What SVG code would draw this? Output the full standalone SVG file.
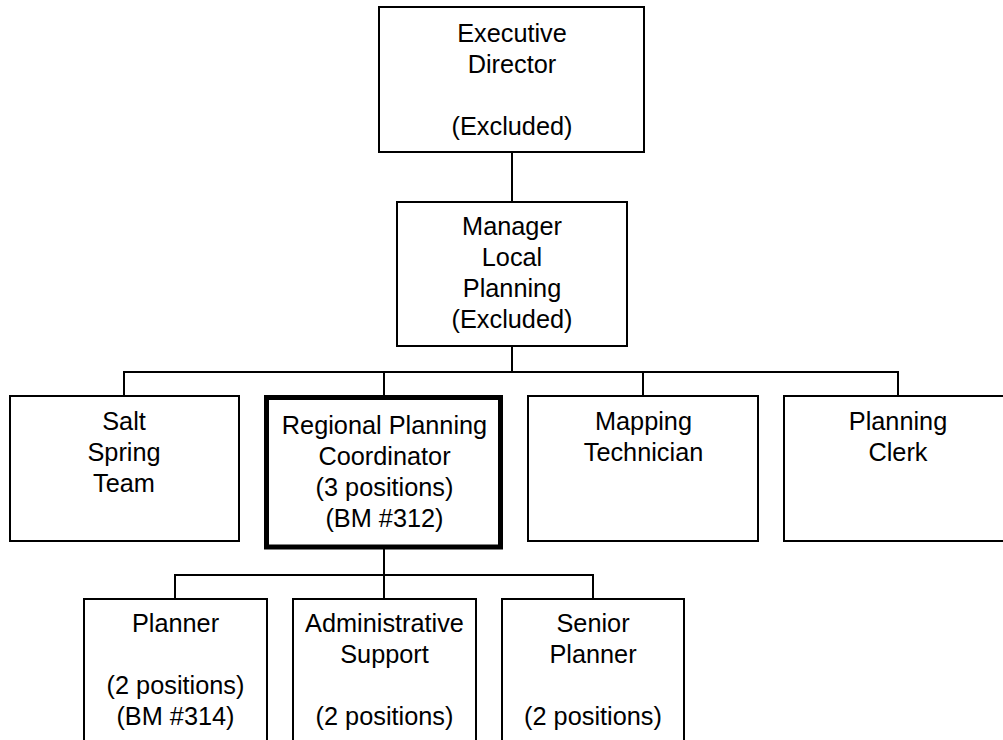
<svg xmlns="http://www.w3.org/2000/svg" width="1003" height="740" viewBox="0 0 1003 740">
  <style>
    .box { fill: #ffffff; stroke: #000000; stroke-width: 2; }
    .box-key { fill: #ffffff; stroke: #000000; stroke-width: 5; }
    .wire { fill: none; stroke: #000000; stroke-width: 2; }
    .label { font-family: "Liberation Sans", Arial, sans-serif; font-size: 25.3px; fill: #000000; text-anchor: middle; }
  </style>
  <rect x="0" y="0" width="1003" height="740" fill="#ffffff"/>

  <!-- reporting lines -->
  <g id="connectors">
    <path class="wire" d="M512 152 V202"/>
    <path class="wire" d="M512 346 V372"/>
    <path class="wire" d="M124 396 V372 H898 V396"/>
    <path class="wire" d="M384 372 V395"/>
    <path class="wire" d="M643 372 V396"/>
    <path class="wire" d="M384 549 V575"/>
    <path class="wire" d="M175 599 V575 H593 V599"/>
    <path class="wire" d="M384 575 V599"/>
  </g>

  <g id="executive-director">
    <rect class="box" x="379" y="7" width="265" height="145"/>
    <text class="label" x="512" y="42">Executive</text>
    <text class="label" x="512" y="73">Director</text>
    <text class="label" x="512" y="135">(Excluded)</text>
  </g>

  <g id="manager-local-planning">
    <rect class="box" x="397" y="202" width="230" height="144"/>
    <text class="label" x="512" y="235">Manager</text>
    <text class="label" x="512" y="266">Local</text>
    <text class="label" x="512" y="297">Planning</text>
    <text class="label" x="512" y="328">(Excluded)</text>
  </g>

  <g id="salt-spring-team">
    <rect class="box" x="10" y="396" width="229" height="145"/>
    <text class="label" x="124" y="430">Salt</text>
    <text class="label" x="124" y="461">Spring</text>
    <text class="label" x="124" y="492">Team</text>
  </g>

  <g id="regional-planning-coordinator">
    <rect class="box-key" x="266.5" y="397.5" width="234" height="149.5"/>
    <text class="label" x="384.5" y="434">Regional Planning</text>
    <text class="label" x="384.5" y="465">Coordinator</text>
    <text class="label" x="384.5" y="496">(3 positions)</text>
    <text class="label" x="384.5" y="527">(BM #312)</text>
  </g>

  <g id="mapping-technician">
    <rect class="box" x="528" y="396" width="230" height="145"/>
    <text class="label" x="643.5" y="430">Mapping</text>
    <text class="label" x="643.5" y="461">Technician</text>
  </g>

  <g id="planning-clerk">
    <rect class="box" x="784" y="396" width="230" height="145"/>
    <text class="label" x="898" y="430">Planning</text>
    <text class="label" x="898" y="461">Clerk</text>
  </g>

  <g id="planner">
    <rect class="box" x="84" y="599" width="183" height="160"/>
    <text class="label" x="175.5" y="632">Planner</text>
    <text class="label" x="175.5" y="694">(2 positions)</text>
    <text class="label" x="175.5" y="725">(BM #314)</text>
  </g>

  <g id="administrative-support">
    <rect class="box" x="293" y="599" width="183" height="160"/>
    <text class="label" x="384.5" y="632">Administrative</text>
    <text class="label" x="384.5" y="663">Support</text>
    <text class="label" x="384.5" y="725">(2 positions)</text>
  </g>

  <g id="senior-planner">
    <rect class="box" x="502" y="599" width="182" height="160"/>
    <text class="label" x="593" y="632">Senior</text>
    <text class="label" x="593" y="663">Planner</text>
    <text class="label" x="593" y="725">(2 positions)</text>
  </g>
</svg>
